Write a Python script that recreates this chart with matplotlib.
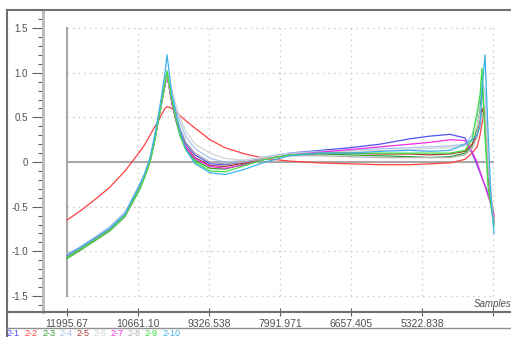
import matplotlib
matplotlib.use("Agg")
import matplotlib.pyplot as plt
from matplotlib.lines import Line2D
from matplotlib.ticker import MultipleLocator

plt.rcParams["font.family"] = ["Liberation Sans", "DejaVu Sans"]

# sample axis (runs right to left)
samples = [11995.7, 11751.3, 11469.4, 11187.4, 10905.5, 10623.5, 10529.5, 10435.5, 10360.4, 10285.2,
           10228.8, 10191.2, 10153.6, 10116.0, 10059.6, 10022.0, 9946.8, 9871.6, 9758.9, 9589.7,
           9307.7, 9025.8, 8649.8, 8274.0, 7804.0, 7240.1, 6676.1, 6112.2, 5548.3, 5172.4,
           4796.4, 4514.5, 4382.9, 4288.9, 4232.5, 4194.9, 4138.6, 4082.2, 4025.8, 3969.4]

s2_1 = [-1.05, -0.97, -0.86, -0.75, -0.59, -0.27, -0.14, 0.02, 0.22, 0.46, 0.64, 0.76, 0.88, 1.0, 0.8, 0.68, 0.5, 0.36, 0.2, 0.08,
        -0.02, -0.03, 0.0, 0.05, 0.1, 0.13, 0.16, 0.2, 0.26, 0.29, 0.31, 0.27, 0.1, -0.03, -0.12, -0.18, -0.26, -0.35, -0.45, -0.62]
s2_2 = [-0.65, -0.55, -0.42, -0.28, -0.1, 0.12, 0.2, 0.3, 0.38, 0.45, 0.52, 0.56, 0.6, 0.62, 0.61, 0.6, 0.56, 0.52, 0.46, 0.38,
        0.25, 0.16, 0.09, 0.04, 0.01, -0.01, -0.02, -0.03, -0.03, -0.02, -0.01, 0.03, 0.1, 0.17, 0.3, 0.43, 0.6, -0.2, -0.4, -0.6]
s2_3 = [-1.08, -0.99, -0.88, -0.77, -0.61, -0.3, -0.16, 0.0, 0.2, 0.44, 0.62, 0.74, 0.86, 1.0, 0.8, 0.66, 0.46, 0.3, 0.14, 0.02,
        -0.07, -0.08, -0.02, 0.04, 0.08, 0.09, 0.08, 0.07, 0.06, 0.05, 0.06, 0.1, 0.18, 0.38, 0.58, 0.9, 0.35, -0.15, -0.4, -0.68]
s2_4 = [-1.03, -0.95, -0.84, -0.72, -0.56, -0.24, -0.12, 0.04, 0.24, 0.48, 0.66, 0.78, 0.9, 1.02, 0.86, 0.75, 0.58, 0.45, 0.28, 0.15,
        0.04, 0.0, 0.02, 0.06, 0.1, 0.12, 0.13, 0.15, 0.16, 0.17, 0.18, 0.2, 0.3, 0.5, 0.7, 0.9, 0.8, 0.0, -0.4, -0.7]
s2_5 = [-1.06, -0.98, -0.87, -0.76, -0.6, -0.28, -0.15, 0.01, 0.21, 0.45, 0.63, 0.75, 0.86, 0.98, 0.78, 0.66, 0.48, 0.33, 0.17, 0.05,
        -0.04, -0.05, -0.01, 0.04, 0.08, 0.1, 0.1, 0.09, 0.09, 0.08, 0.09, 0.12, 0.2, 0.3, 0.45, 0.6, 0.5, -0.1, -0.4, -0.66]
s2_6 = [-1.04, -0.96, -0.85, -0.74, -0.58, -0.26, -0.13, 0.03, 0.23, 0.47, 0.65, 0.77, 0.88, 1.0, 0.88, 0.8, 0.64, 0.5, 0.34, 0.2,
        0.1, 0.04, 0.02, 0.05, 0.09, 0.11, 0.12, 0.13, 0.14, 0.15, 0.16, 0.18, 0.25, 0.4, 0.55, 0.7, 0.6, 0.0, -0.35, -0.65]
s2_7 = [-1.05, -0.97, -0.86, -0.75, -0.59, -0.27, -0.15, 0.01, 0.21, 0.45, 0.63, 0.75, 0.86, 0.98, 0.78, 0.65, 0.47, 0.32, 0.16, 0.04,
        -0.05, -0.07, -0.03, 0.03, 0.08, 0.11, 0.14, 0.17, 0.2, 0.22, 0.25, 0.24, 0.12, 0.0, -0.1, -0.17, -0.27, -0.38, -0.48, -0.6]
s2_8 = [-1.06, -0.98, -0.87, -0.76, -0.6, -0.28, -0.15, 0.0, 0.21, 0.45, 0.63, 0.75, 0.86, 0.97, 0.8, 0.68, 0.52, 0.38, 0.22, 0.1,
        0.0, -0.02, 0.0, 0.04, 0.07, 0.07, 0.06, 0.05, 0.05, 0.05, 0.05, 0.08, 0.15, 0.28, 0.42, 0.55, 0.45, -0.1, -0.4, -0.68]
s2_9 = [-1.07, -0.98, -0.87, -0.76, -0.6, -0.29, -0.16, 0.0, 0.2, 0.45, 0.63, 0.76, 0.88, 1.02, 0.82, 0.68, 0.48, 0.3, 0.13, 0.0,
        -0.1, -0.11, -0.04, 0.03, 0.08, 0.1, 0.1, 0.1, 0.1, 0.1, 0.1, 0.13, 0.25, 0.55, 0.75, 1.05, 0.3, -0.28, -0.5, -0.72]
s2_10 = [-1.04, -0.96, -0.85, -0.74, -0.58, -0.25, -0.12, 0.05, 0.26, 0.5, 0.7, 0.85, 1.0, 1.2, 0.93, 0.75, 0.55, 0.35, 0.14, -0.02,
         -0.12, -0.14, -0.08, 0.0, 0.07, 0.1, 0.1, 0.12, 0.13, 0.12, 0.13, 0.2, 0.25, 0.3, 0.4, 0.8, 1.2, 0.35, -0.4, -0.8]

series = [s2_1, s2_2, s2_3, s2_4, s2_5, s2_6, s2_7, s2_8, s2_9, s2_10]
names = ["2-1", "2-2", "2-3", "2-4", "2-5", "2-6", "2-7", "2-8", "2-9", "2-10"]
colors = ["#5050f0", "#ff4040", "#30a030", "#a8c4f0", "#a83838",
          "#d4d4d4", "#f030e0", "#b0b0b0", "#40e040", "#40b0e8"]

xticks = [11995.67, 10661.10, 9326.538, 7991.971, 6657.405, 5322.838, 3988.27]
xlabels = ["11995.67", "10661.10", "9326.538", "7991.971", "6657.405", "5322.838", ""]

W, H = 511, 337
fig = plt.figure(figsize=(W / 100, H / 100), dpi=100)
ax = fig.add_axes([43 / W, 1 - 312 / H, (W - 43) / W, 302 / H])

ax.set_xlim(12446.8, 3649.8)
ax.set_ylim(-1.679, 1.702)

# grid
for y in [-1.5, -1.0, -0.5, 0.5, 1.0, 1.5]:
    ax.plot([xticks[0], xticks[-1]], [y, y], color="#c8c8c8", lw=1, ls=(0, (1, 3)), zorder=1)
for x in xticks[1:]:
    ax.plot([x, x], [-1.5, 1.5], color="#c8c8c8", lw=1, ls=(0, (1, 3)), zorder=1)
ax.plot([xticks[0], xticks[-1]], [0, 0], color="#a8a8a8", lw=1.5, zorder=1)
ax.plot([xticks[0], xticks[0]], [-1.5, 1.5], color="#a8a8a8", lw=1.5, zorder=1)

for s, c in zip(series, colors):
    ax.plot(samples, s, color=c, lw=0.9, zorder=2)

for sp in ["top", "right"]:
    ax.spines[sp].set_visible(False)
ax.spines["left"].set_color("#b8b8b8")
ax.spines["left"].set_linewidth(2)
ax.spines["bottom"].set_color("#707070")
ax.spines["bottom"].set_linewidth(1.5)

ax.set_yticks([-1.5, -1.0, -0.5, 0, 0.5, 1.0, 1.5])
ax.set_yticklabels(["-1.5", "-1.0", "-0.5", "0", "0.5", "1.0", "1.5"])
ax.yaxis.set_minor_locator(MultipleLocator(0.1))
ax.tick_params(axis="y", which="major", length=8, width=0.8, color="#606060",
               labelsize=7, labelcolor="#505050", pad=3)
ax.tick_params(axis="y", which="minor", length=3.5, width=0.8, color="#606060")

ax.set_xticks(xticks)
ax.set_xticklabels(xlabels)
ax.tick_params(axis="x", direction="inout", length=6, width=0.8, color="#606060",
               labelsize=7.5, labelcolor="#505050", pad=2)

ax.text(1.0, 0.01, "Samples", transform=ax.transAxes, ha="right", va="bottom",
        fontsize=7, style="italic", color="#505050")

# frame lines
fig.add_artist(Line2D([7 / W, 1], [1 - 10 / H, 1 - 10 / H], color="#707070", lw=1.5))
fig.add_artist(Line2D([7 / W, 7 / W], [0, 1 - 10 / H], color="#707070", lw=1.5))
fig.add_artist(Line2D([7 / W, 43 / W], [1 - 312 / H, 1 - 312 / H], color="#707070", lw=1.5))
fig.add_artist(Line2D([7 / W, 1], [1 - 328 / H, 1 - 328 / H], color="#909090", lw=1))

# legend labels
lx = [7, 25, 43, 60, 77, 94, 111, 128, 145, 163]
for x, n, c in zip(lx, names, colors):
    fig.text(x / W, 1 - 328.5 / H, n, color=c, fontsize=6.5, ha="left", va="top")

fig.savefig("out.png", dpi=100, facecolor="white")
